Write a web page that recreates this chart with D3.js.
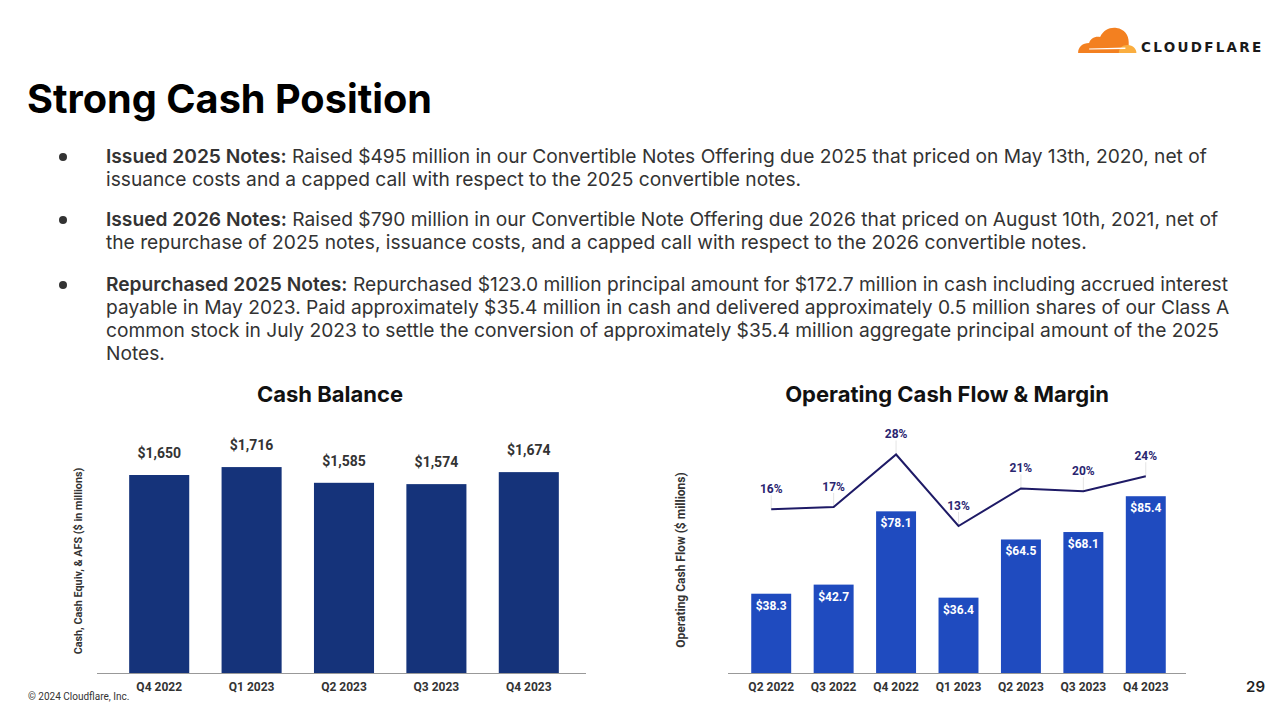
<!DOCTYPE html>
<html><head><meta charset="utf-8">
<script src="https://cdn.jsdelivr.net/npm/d3@7"></script>
<style>
html,body{margin:0;padding:0;background:#fff;}
svg{display:block;}
</style></head>
<body>
<svg id="chart" width="1280" height="706"></svg>
<script>
// ---------- data ----------
const cashQuarters = ["Q4 2022", "Q1 2023", "Q2 2023", "Q3 2023", "Q4 2023"];
const cashValues = [1650, 1716, 1585, 1574, 1674];

const ocfQuarters = ["Q2 2022", "Q3 2022", "Q4 2022", "Q1 2023", "Q2 2023", "Q3 2023", "Q4 2023"];
const ocfValues = [38.3, 42.7, 78.1, 36.4, 64.5, 68.1, 85.4];
const ocfMargins = [16.3, 16.8, 28.4, 12.6, 20.9, 20.3, 23.6];

const bullets = [
  {bold: "Issued 2025 Notes:", lines: [
    " Raised $495 million in our Convertible Notes Offering due 2025 that priced on May 13th, 2020, net of",
    "issuance costs and a capped call with respect to the 2025 convertible notes."]},
  {bold: "Issued 2026 Notes:", lines: [
    " Raised $790 million in our Convertible Note Offering due 2026 that priced on August 10th, 2021, net of",
    "the repurchase of 2025 notes, issuance costs, and a capped call with respect to the 2026 convertible notes."]},
  {bold: "Repurchased 2025 Notes:", lines: [
    " Repurchased $123.0 million principal amount for $172.7 million in cash including accrued interest",
    "payable in May 2023. Paid approximately $35.4 million in cash and delivered approximately 0.5 million shares of our Class A",
    "common stock in July 2023 to settle the conversion of approximately $35.4 million aggregate principal amount of the 2025",
    "Notes."]}
];

// ---------- setup ----------
const svg = d3.select("#chart");
const INTER = "Inter, 'Noto Sans', sans-serif";
const ROBOTO = "Roboto, 'Liberation Sans', sans-serif";

// Title
svg.append("text").attr("x", 27).attr("y", 113)
  .attr("font-family", INTER).attr("font-weight", 700).attr("font-size", 39.7)
  .attr("fill", "#000").text("Strong Cash Position");

// Logo
const logo = svg.append("g").attr("transform", "translate(1077,27) scale(1.1,1)");
logo.append("path").attr("fill", "#F38020")
  .attr("d", "M1,26 C1,20 5,16 11,16 C12,12 16,9 21,10 C24,3 30,0 36,1 C43,2 47,8 47,15 L47,26 Z");
logo.append("path").attr("fill", "#FAAE40")
  .attr("d", "M38,26 C38,21 41,18 46,18 C51,18 54,22 54,26 Z");
logo.append("path").attr("fill", "#fff")
  .attr("d", "M11,21.5 L44,20.5 L44,22 L11,22.5 Z");
svg.append("text").attr("x", 1141).attr("y", 52)
  .attr("font-family", "'DejaVu Sans', sans-serif").attr("font-weight", 700).attr("font-size", 13.5)
  .attr("letter-spacing", 2.3).attr("fill", "#1a1a1a").text("CLOUDFLARE");

// Bullets
const bulletTops = [163, 226, 291];
const lineH = 23;
bullets.forEach((b, i) => {
  const y0 = bulletTops[i];
  svg.append("circle").attr("cx", 63).attr("cy", y0 - 6).attr("r", 4).attr("fill", "#333");
  b.lines.forEach((ln, j) => {
    const t = svg.append("text").attr("x", 106).attr("y", y0 + j * lineH)
      .attr("font-family", INTER).attr("font-size", 19.2).attr("fill", "#333");
    if (j === 0) t.append("tspan").attr("font-weight", 600).text(b.bold);
    t.append("tspan").attr("font-weight", 400).text(ln);
  });
});

// ---------- Left chart: Cash Balance ----------
const L = {x0: 113, x1: 575, base: 673};
const xL = d3.scaleBand().domain(cashQuarters).range([L.x0, L.x1]).paddingInner(0.35).paddingOuter(0.175);
const yL = d3.scaleLinear().domain([0, 2000]).range([L.base, L.base - 240]);

svg.append("text").attr("x", 330).attr("y", 402).attr("text-anchor", "middle")
  .attr("font-family", INTER).attr("font-weight", 700).attr("font-size", 22).attr("fill", "#111")
  .text("Cash Balance");

svg.append("g").selectAll("rect").data(cashValues).join("rect")
  .attr("x", (d, i) => xL(cashQuarters[i]))
  .attr("y", d => yL(d))
  .attr("width", xL.bandwidth())
  .attr("height", d => yL(0) - yL(d))
  .attr("fill", "#15337A");

svg.append("g").selectAll("text").data(cashValues).join("text")
  .attr("x", (d, i) => xL(cashQuarters[i]) + xL.bandwidth() / 2)
  .attr("y", d => yL(d) - 17)
  .attr("text-anchor", "middle")
  .attr("font-family", ROBOTO).attr("font-weight", 700).attr("font-size", 14).attr("fill", "#333")
  .text(d => "$" + d3.format(",")(d));

const axL = svg.append("g").attr("transform", `translate(0,${L.base})`)
  .call(d3.axisBottom(xL).tickSize(0).tickPadding(9));
axL.select(".domain").remove();
axL.selectAll("text").attr("font-family", ROBOTO).attr("font-weight", 700).attr("font-size", 12).attr("fill", "#333");
svg.append("line").attr("x1", 97).attr("x2", 586).attr("y1", L.base + 0.5).attr("y2", L.base + 0.5)
  .attr("stroke", "#999").attr("stroke-width", 1.2);

svg.append("text").attr("transform", "translate(82,561) rotate(-90)").attr("text-anchor", "middle")
  .attr("font-family", ROBOTO).attr("font-weight", 700).attr("font-size", 10.8).attr("fill", "#333")
  .text("Cash, Cash Equiv, & AFS ($ in millions)");

// ---------- Right chart: Operating Cash Flow & Margin ----------
const R = {x0: 740, x1: 1177, base: 673};
const xR = d3.scaleBand().domain(ocfQuarters).range([R.x0, R.x1]).paddingInner(0.36).paddingOuter(0.18);
const yR = d3.scaleLinear().domain([0, 100]).range([R.base, R.base - 207]);
const yM = d3.scaleLinear().domain([0, 40]).range([583, 583 - 181]);

svg.append("text").attr("x", 947).attr("y", 402).attr("text-anchor", "middle")
  .attr("font-family", INTER).attr("font-weight", 700).attr("font-size", 22).attr("fill", "#111")
  .text("Operating Cash Flow & Margin");

svg.append("g").selectAll("rect").data(ocfValues).join("rect")
  .attr("x", (d, i) => xR(ocfQuarters[i]))
  .attr("y", d => yR(d))
  .attr("width", xR.bandwidth())
  .attr("height", d => yR(0) - yR(d))
  .attr("fill", "#1F4BBF");

svg.append("g").selectAll("text").data(ocfValues).join("text")
  .attr("x", (d, i) => xR(ocfQuarters[i]) + xR.bandwidth() / 2)
  .attr("y", d => yR(d) + 16)
  .attr("text-anchor", "middle")
  .attr("font-family", ROBOTO).attr("font-weight", 700).attr("font-size", 12).attr("fill", "#fff")
  .text(d => "$" + d3.format(".1f")(d));

const cx = (d, i) => xR(ocfQuarters[i]) + xR.bandwidth() / 2;

// leader lines
svg.append("g").selectAll("line").data(ocfMargins).join("line")
  .attr("x1", cx).attr("x2", cx)
  .attr("y1", d => yM(d) - 14).attr("y2", d => yM(d))
  .attr("stroke", "#e4e4e4").attr("stroke-width", 1);

svg.append("path").datum(ocfMargins)
  .attr("d", d3.line().x(cx).y(d => yM(d)))
  .attr("fill", "none").attr("stroke", "#1E1A66").attr("stroke-width", 2);

svg.append("g").selectAll("text").data(ocfMargins).join("text")
  .attr("x", cx)
  .attr("y", d => yM(d) - 16)
  .attr("text-anchor", "middle")
  .attr("font-family", ROBOTO).attr("font-weight", 700).attr("font-size", 12).attr("fill", "#2A2570")
  .text(d => Math.round(d) + "%");

const axR = svg.append("g").attr("transform", `translate(0,${R.base})`)
  .call(d3.axisBottom(xR).tickSize(0).tickPadding(9));
axR.select(".domain").remove();
axR.selectAll("text").attr("font-family", ROBOTO).attr("font-weight", 700).attr("font-size", 12).attr("fill", "#333");
svg.append("line").attr("x1", 728).attr("x2", 1186).attr("y1", R.base + 0.5).attr("y2", R.base + 0.5)
  .attr("stroke", "#999").attr("stroke-width", 1.2);

svg.append("text").attr("transform", "translate(685,560) rotate(-90)").attr("text-anchor", "middle")
  .attr("font-family", ROBOTO).attr("font-weight", 700).attr("font-size", 12).attr("fill", "#333")
  .text("Operating Cash Flow ($ millions)");

// Footer
svg.append("text").attr("x", 28).attr("y", 700)
  .attr("font-family", ROBOTO).attr("font-size", 10).attr("fill", "#333")
  .text("© 2024 Cloudflare, Inc.");
svg.append("text").attr("x", 1265).attr("y", 692).attr("text-anchor", "end")
  .attr("font-family", INTER).attr("font-weight", 600).attr("font-size", 15).attr("fill", "#222")
  .text("29");
</script>
</body></html>
